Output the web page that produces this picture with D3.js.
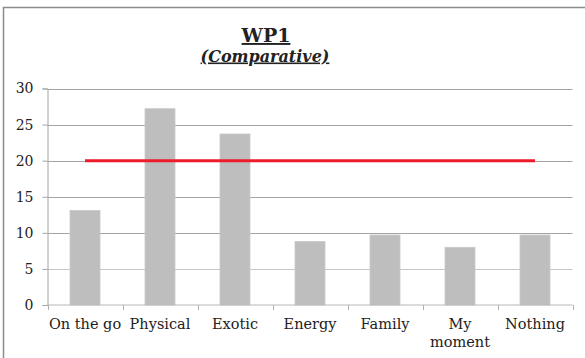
<!DOCTYPE html>
<html>
<head>
<meta charset="utf-8">
<script src="https://cdn.jsdelivr.net/npm/d3@7"></script>
<style>
  html, body { margin: 0; padding: 0; background: #fff; }
  svg { display: block; }
  text { font-family: "DejaVu Serif", serif; fill: #222; }
</style>
</head>
<body>
<svg id="chart" width="585" height="358"></svg>
<script>
// Category names (multi-line labels split by "\n")
const categories = ["On the go", "Physical", "Exotic", "Energy", "Family", "My\nmoment", "Nothing"];
// Bar series
const barValues = [13.1, 27.2, 23.7, 8.8, 9.7, 8.0, 9.7];
// Reference line series
const lineValues = [20, 20, 20, 20, 20, 20, 20];
// Y axis tick values
const yTicks = [0, 5, 10, 15, 20, 25, 30];

const title = "WP1";
const subtitle = "(Comparative)";

const W = 585, H = 358;
const margin = { left: 47.5, right: 12.5, top: 88.5, bottom: 53 };

const svg = d3.select("#chart");

// Chart frame
svg.append("path")
  .attr("d", `M3.5,${H + 5}V7.5H${W + 5}`)
  .attr("fill", "none")
  .attr("stroke", "#8c8c8c")
  .attr("stroke-width", 1.5);

const x = d3.scaleBand()
  .domain(categories)
  .range([margin.left, W - margin.right])
  .paddingInner(0.6)
  .paddingOuter(0.3);

const xOuter = d3.scaleBand()
  .domain(categories)
  .range([margin.left, W - margin.right]);

const y = d3.scaleLinear()
  .domain([0, 30])
  .range([H - margin.bottom, margin.top]);

// Horizontal gridlines
svg.append("g")
  .selectAll("line")
  .data(yTicks.filter(d => d > 0))
  .join("line")
  .attr("x1", margin.left)
  .attr("x2", W - margin.right)
  .attr("y1", d => Math.round(y(d)) + 0.5)
  .attr("y2", d => Math.round(y(d)) + 0.5)
  .attr("stroke", d => d === 5 ? "#c6c6c6" : "#a4a4a4")
  .attr("stroke-width", 1);

// Y axis
const yAxis = svg.append("g")
  .attr("transform", `translate(${margin.left},0)`)
  .call(d3.axisLeft(y).tickValues(yTicks).tickSize(5).tickPadding(9));
yAxis.select(".domain").attr("stroke", "#a4a4a4");
yAxis.selectAll(".tick line").attr("stroke", "#a4a4a4");
yAxis.selectAll(".tick text")
  .attr("font-family", "DejaVu Serif, serif")
  .attr("font-size", 14)
  .attr("fill", "#222");

// Bars
svg.append("g")
  .selectAll("rect")
  .data(categories.map((c, i) => ({ c, v: barValues[i] })))
  .join("rect")
  .attr("x", d => x(d.c))
  .attr("width", x.bandwidth())
  .attr("y", d => y(d.v))
  .attr("height", d => y(0) - y(d.v))
  .attr("fill", "#bebebe")
  .attr("stroke", "#c9c9c9")
  .attr("stroke-width", 0.8);

// X axis with ticks at category boundaries
const xAxisG = svg.append("g")
  .attr("transform", `translate(0,${y(0)})`);
xAxisG.append("line")
  .attr("x1", margin.left).attr("x2", W - margin.right)
  .attr("stroke", "#b8b8b8");
xAxisG.selectAll("line.tk")
  .data(categories.map((c, i) => i).concat([categories.length]))
  .join("line")
  .attr("class", "tk")
  .attr("x1", i => Math.round(margin.left + i * xOuter.step()) + 0.5)
  .attr("x2", i => Math.round(margin.left + i * xOuter.step()) + 0.5)
  .attr("y1", 0).attr("y2", 5)
  .attr("stroke", "#b0b0b0");

// Category labels
const labels = xAxisG.selectAll("text.lbl")
  .data(categories)
  .join("text")
  .attr("class", "lbl")
  .attr("text-anchor", "middle")
  .attr("font-size", 14.5)
  .attr("transform", d => `translate(${x(d) + x.bandwidth() / 2},24)`);
labels.selectAll("tspan")
  .data(d => d.split("\n"))
  .join("tspan")
  .attr("x", 0)
  .attr("dy", (d, i) => i === 0 ? 0 : 18)
  .text(d => d);

// Reference line
const line = d3.line()
  .x((d, i) => x(categories[i]) + x.bandwidth() / 2)
  .y(d => y(d));
svg.append("path")
  .datum(lineValues)
  .attr("d", line)
  .attr("fill", "none")
  .attr("stroke", "#ec1c2a")
  .attr("stroke-width", 3);

// Titles
svg.append("text")
  .attr("x", 266).attr("y", 42)
  .attr("text-anchor", "middle")
  .attr("font-size", 19)
  .attr("font-weight", "bold")
  .attr("text-decoration", "underline")
  .text(title);
svg.append("text")
  .attr("x", 265).attr("y", 61.5)
  .attr("text-anchor", "middle")
  .attr("font-size", 16)
  .attr("font-weight", "bold")
  .attr("font-style", "italic")
  .attr("text-decoration", "underline")
  .text(subtitle);
</script>
</body>
</html>
